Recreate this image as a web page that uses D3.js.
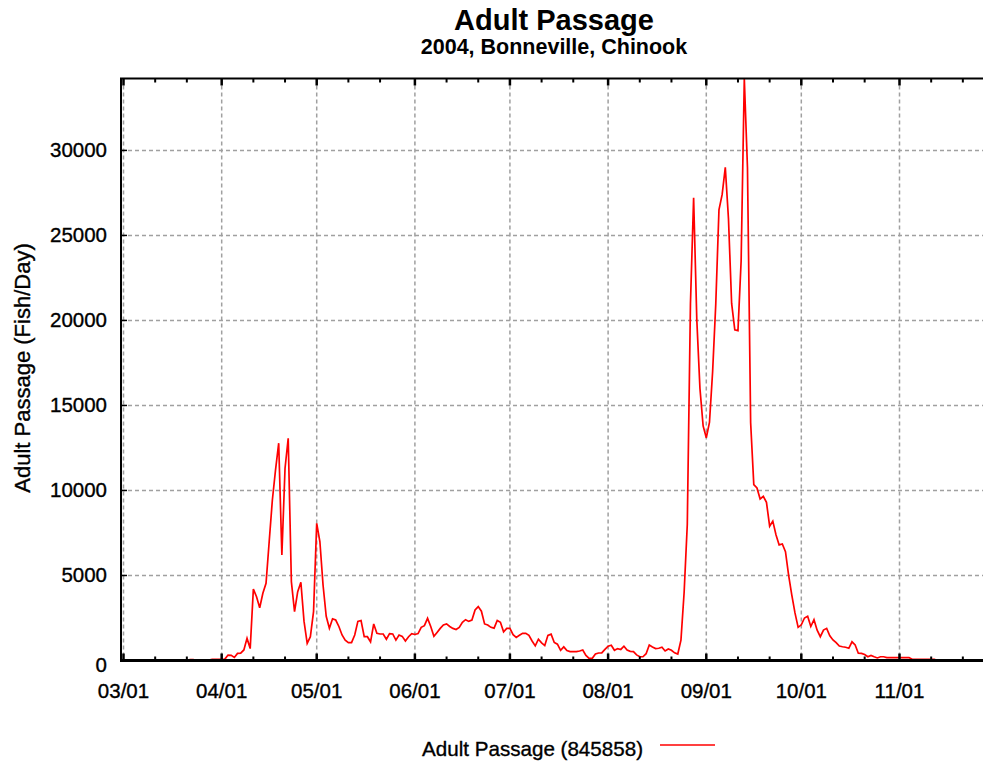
<!DOCTYPE html>
<html>
<head>
<meta charset="utf-8">
<script src="https://cdn.jsdelivr.net/npm/d3@7"></script>
<style>
  html, body { margin: 0; padding: 0; background: #fff; }
  svg { display: block; }
  text { font-family: "Liberation Sans", Arial, sans-serif; fill: #000; }
  .lbl { stroke: #000; stroke-width: 0.35px; }
</style>
</head>
<body>
<div id="chart"></div>
<script>
// Daily adult Chinook passage at Bonneville, 2004, starting 03/01
const seasonStart = "2004-03-01";
const passage = [
  0, 0, 0, 0, 0, 0, 0, 0, 0, 0,
  0, 0, 0, 0, 0, 0, 0, 0, 0, 0,
  0, 60, 60, 10, 10, 10, 10, 20, 70, 70,
  70, 70, 80, 320, 300, 180, 420, 430, 620, 1300,
  700, 4200, 3750, 3100, 3950, 4540, 7000, 9440, 11210, 12780,
  6210, 11310, 13070, 4640, 2870, 4050, 4600, 2300, 1010, 1400,
  2870, 8070, 7000, 4440, 2600, 1900, 2450, 2380, 2000, 1500,
  1200, 1050, 1050, 1500, 2300, 2350, 1400, 1400, 1100, 2150,
  1600, 1560, 1560, 1250, 1580, 1560, 1200, 1500, 1420, 1150,
  1400, 1580, 1530, 1580, 1950, 2050, 2480, 2000, 1420, 1650,
  1890, 2090, 2150, 2000, 1890, 1820, 1950, 2250, 2400, 2300,
  2380, 2970, 3170, 2900, 2150, 2090, 1950, 1900, 2350, 2250,
  1690, 1890, 1890, 1520, 1360, 1480, 1600, 1600, 1480, 1150,
  860, 1250, 1040, 880, 1480, 1550, 1060, 960, 600, 800,
  580, 520, 520, 520, 560, 620, 300, 130, 130, 380,
  440, 450, 650, 840, 900, 600, 700, 650, 840, 620,
  540, 520, 330, 220, 220, 400, 910, 800, 700, 720,
  780, 560, 680, 600, 450, 380, 1200, 4000, 8000, 21000,
  27210, 20060, 16000, 13800, 13100, 14000, 17000, 21000, 26500, 27400,
  29000, 26000, 21000, 19450, 19400, 23500, 34230, 29000, 14000, 10350,
  10150, 9500, 9650, 9300, 7900, 8200, 7400, 6800, 6850, 6400,
  5000, 3850, 2800, 1950, 2100, 2500, 2600, 2000, 2400, 1780,
  1400, 1790, 1890, 1450, 1210, 1050, 850, 810, 780, 720,
  1100, 910, 430, 420, 350, 220, 300, 220, 150, 220,
  220, 170, 170, 170, 170, 170, 170, 170, 170, 70,
  70, 70, 70, 70, 70, 70, 70, 0, 0, 0, 0
];
const seasonTotal = 845858;
const yTicks = [0, 5000, 10000, 15000, 20000, 25000, 30000];
const monthTicks = ["2004-03-01", "2004-04-01", "2004-05-01", "2004-06-01", "2004-07-01",
                    "2004-08-01", "2004-09-01", "2004-10-01", "2004-11-01"];
const titleText = "Adult Passage";
const subtitleText = "2004, Bonneville, Chinook";
const yLabelText = "Adult Passage (Fish/Day)";
const legendText = "Adult Passage";

const W = 983, H = 764;
const plot = { left: 121, right: 983, top: 78.5, bottom: 660.5 };

const parse = d3.utcParse("%Y-%m-%d");
const start = parse(seasonStart);
const rows = passage.map((v, i) => ({ date: d3.utcDay.offset(start, i), value: v }));
const monthDates = monthTicks.map(parse);

const x = d3.scaleUtc()
  .domain([monthDates[0], monthDates[monthDates.length - 1]])
  .range([123.5, 899.5]);
const y = d3.scaleLinear()
  .domain([0, d3.max(passage)])
  .range([plot.bottom, plot.top]);

const svg = d3.select("#chart").append("svg")
  .attr("width", W).attr("height", H);

// Titles
svg.append("text").attr("x", 554).attr("y", 30)
  .attr("text-anchor", "middle").attr("font-weight", "bold").attr("font-size", 29)
  .text(titleText);
svg.append("text").attr("x", 554).attr("y", 54)
  .attr("text-anchor", "middle").attr("font-weight", "bold").attr("font-size", 21.5)
  .text(subtitleText);

// Dashed grid
const grid = svg.append("g").attr("stroke", "#a0a0a0").attr("stroke-width", 1.5)
  .attr("stroke-dasharray", "4,3");
grid.selectAll("line.h").data(yTicks.filter(d => d > 0)).join("line")
  .attr("x1", plot.left).attr("x2", plot.right)
  .attr("y1", d => y(d)).attr("y2", d => y(d));
grid.selectAll("line.v").data(monthDates).join("line")
  .attr("x1", d => x(d)).attr("x2", d => x(d))
  .attr("y1", plot.top).attr("y2", plot.bottom);

// Passage line
svg.append("clipPath").attr("id", "plot-clip").append("rect")
  .attr("x", plot.left).attr("y", plot.top - 1)
  .attr("width", plot.right - plot.left).attr("height", plot.bottom - plot.top + 1);
const line = d3.line().x(d => x(d.date)).y(d => y(d.value));
svg.append("path").datum(rows)
  .attr("clip-path", "url(#plot-clip)")
  .attr("fill", "none").attr("stroke", "#ff0000").attr("stroke-width", 1.7)
  .attr("stroke-linejoin", "miter")
  .attr("d", line);

// Axes frame
const frame = svg.append("g").attr("stroke", "#000");
frame.append("line").attr("x1", plot.left - 1).attr("x2", plot.right)
  .attr("y1", plot.bottom).attr("y2", plot.bottom).attr("stroke-width", 3);
frame.append("line").attr("x1", plot.left - 1).attr("x2", plot.right)
  .attr("y1", plot.top).attr("y2", plot.top).attr("stroke-width", 2);
frame.append("line").attr("x1", plot.left).attr("x2", plot.left)
  .attr("y1", plot.top).attr("y2", plot.bottom).attr("stroke-width", 2);

// Left ticks
frame.selectAll("line.yt").data(yTicks).join("line")
  .attr("x1", plot.left).attr("x2", plot.left + 6)
  .attr("y1", d => y(d)).attr("y2", d => y(d)).attr("stroke-width", 1.5);

// Month ticks (major) and 10-day ticks (minor), bottom and top
const minorDates = d3.utcDay.range(monthDates[0], x.invert(plot.right))
  .filter(d => d.getUTCDate() === 11 || d.getUTCDate() === 21);
const majorDates = d3.utcMonth.range(monthDates[0], x.invert(plot.right));
frame.selectAll("line.bmaj").data(majorDates).join("line")
  .attr("x1", d => x(d)).attr("x2", d => x(d))
  .attr("y1", plot.bottom).attr("y2", plot.bottom - 7).attr("stroke-width", 2.5);
frame.selectAll("line.bmin").data(minorDates).join("line")
  .attr("x1", d => x(d)).attr("x2", d => x(d))
  .attr("y1", plot.bottom).attr("y2", plot.bottom - 4).attr("stroke-width", 2);
frame.selectAll("line.tmaj").data(majorDates).join("line")
  .attr("x1", d => x(d)).attr("x2", d => x(d))
  .attr("y1", plot.top).attr("y2", plot.top + 7).attr("stroke-width", 2.5);
frame.selectAll("line.tmin").data(minorDates).join("line")
  .attr("x1", d => x(d)).attr("x2", d => x(d))
  .attr("y1", plot.top).attr("y2", plot.top + 4).attr("stroke-width", 2);

// Tick labels
svg.append("g").selectAll("text").data(yTicks).join("text")
  .attr("class", "lbl")
  .attr("x", 107).attr("y", d => y(d) + (d === 0 ? 11 : 7))
  .attr("text-anchor", "end").attr("font-size", 20.5)
  .text(d => d3.format("d")(d));
const fmt = d3.utcFormat("%m/%d");
svg.append("g").selectAll("text").data(monthDates).join("text")
  .attr("class", "lbl")
  .attr("x", d => x(d)).attr("y", 698)
  .attr("text-anchor", "middle").attr("font-size", 20.5)
  .text(d => fmt(d));

// Y axis title
svg.append("text").attr("class", "lbl")
  .attr("transform", "translate(30,368) rotate(-90)")
  .attr("text-anchor", "middle").attr("font-size", 22)
  .text(yLabelText);

// Legend
svg.append("text").attr("class", "lbl").attr("x", 643).attr("y", 756)
  .attr("text-anchor", "end").attr("font-size", 20.6)
  .text(`${legendText} (${seasonTotal})`);
svg.append("line").attr("x1", 660).attr("x2", 715).attr("y1", 745).attr("y2", 745)
  .attr("stroke", "#ff0000").attr("stroke-width", 1.7);
</script>
</body>
</html>
